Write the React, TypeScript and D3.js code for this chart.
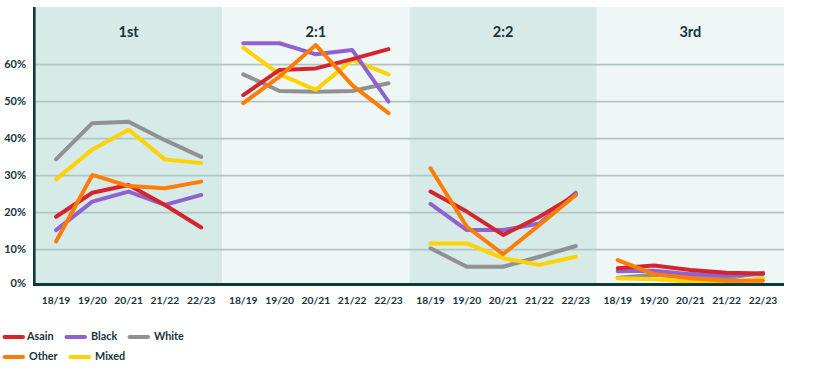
import React from "react";
import * as d3 from "d3";

const panels = ["1st", "2:1", "2:2", "3rd"];
const years = ["18/19", "19/20", "20/21", "21/22", "22/23"];
const yTicks = [0, 10, 20, 30, 40, 50, 60];

// values per panel (5 years each)
const asain = [
  [18.9, 25.4, 27.5, 22.1, 16.0],
  [51.8, 58.6, 59.0, 61.5, 64.2],
  [25.7, 20.3, 14.0, 18.9, 24.8],
  [5.0, 5.7, 4.5, 3.8, 3.6],
];
const black = [
  [15.3, 23.0, 25.7, 22.1, 24.8],
  [65.8, 65.8, 62.8, 64.0, 50.0],
  [22.4, 15.3, 15.3, 17.1, 25.4],
  [4.2, 4.3, 3.4, 3.0, 3.4],
];
const white = [
  [34.4, 44.2, 44.6, 39.6, 35.1],
  [57.4, 52.9, 52.7, 52.9, 55.0],
  [10.4, 5.4, 5.4, 8.1, 11.0],
  [2.4, 3.2, 2.7, 2.3, 3.8],
];
const other = [
  [12.2, 30.2, 27.2, 26.6, 28.4],
  [49.6, 56.8, 65.3, 54.5, 46.9],
  [32.0, 16.2, 8.8, 16.7, 24.8],
  [7.2, 3.4, 2.3, 1.6, 1.6],
];
const mixed = [
  [29.0, 37.1, 42.4, 34.4, 33.4],
  [64.6, 57.4, 53.2, 61.3, 57.4],
  [11.7, 11.7, 7.7, 5.9, 8.1],
  [2.3, 2.0, 1.4, 1.1, 2.3],
];

const seriesColors: Record<string, string> = {
  Asain: "#d4252f",
  Black: "#8f62d0",
  White: "#919194",
  Other: "#ff7d06",
  Mixed: "#ffd200",
};
const seriesData: Record<string, number[][]> = {
  Asain: asain,
  Black: black,
  White: white,
  Other: other,
  Mixed: mixed,
};
const drawOrder = ["White", "Mixed", "Black", "Asain", "Other"];

const W = 814;
const H = 370;
const plotLeft = 35;
const plotRight = 784;
const plotTop = 7;
const axisY = 284.5;
const FONT = "Lato, 'Open Sans', sans-serif";
const TXT = "#16343a";

export default function App() {
  const y = d3.scaleLinear().domain([0, 75]).range([286.7, 9.2]);
  const band = d3.scaleBand<string>().domain(panels).range([plotLeft, plotRight]).padding(0);
  const bw = band.bandwidth();
  const xFor = (p: string) =>
    d3.scalePoint<string>().domain(years).range([band(p)! + 21, band(p)! + bw - 21]);
  const line = (xs: d3.ScalePoint<string>) =>
    d3
      .line<number>()
      .x((_, i) => xs(years[i])!)
      .y((v) => y(v));

  const legendRows = [
    [
      { name: "Asain", x: 3, tx: 27 },
      { name: "Black", x: 65, tx: 91 },
      { name: "White", x: 128, tx: 154 },
    ],
    [
      { name: "Other", x: 3, tx: 29 },
      { name: "Mixed", x: 69, tx: 95 },
    ],
  ];

  return (
    <svg
      width={W}
      height={H}
      style={{ position: "absolute", left: 0, top: 0, background: "#fff" }}
      fontFamily={FONT}
    >
      {panels.map((p, i) => (
        <rect
          key={p}
          x={band(p)}
          y={plotTop}
          width={bw}
          height={axisY - plotTop}
          fill={i % 2 === 0 ? "#d6eae7" : "#eff7f6"}
        />
      ))}
      {yTicks.slice(1).map((t) => (
        <line key={t} x1={plotLeft} x2={plotRight} y1={y(t)} y2={y(t)} stroke="#b2c5c2" strokeWidth={1.8} />
      ))}
      {panels.map((p) => (
        <text
          key={p}
          x={band(p)! + bw / 2}
          y={33}
          textAnchor="middle"
          dominantBaseline="middle"
          fontSize={14.5}
          fontWeight={700}
          fill={TXT}
        >
          {p}
        </text>
      ))}
      {panels.map((p, pi) => {
        const xs = xFor(p);
        return (
          <g key={p}>
            {drawOrder.map((s) => (
              <path
                key={s}
                d={line(xs)(seriesData[s][pi]) || ""}
                fill="none"
                stroke={seriesColors[s]}
                strokeWidth={4}
                strokeLinejoin="round"
                strokeLinecap="round"
              />
            ))}
            {years.map((yr) => (
              <text
                key={yr}
                x={xs(yr)}
                y={301}
                textAnchor="middle"
                dominantBaseline="middle"
                fontSize={10.3}
                fontWeight={700}
                fill={TXT}
              >
                {yr}
              </text>
            ))}
          </g>
        );
      })}
      <line x1={plotLeft - 1} x2={plotRight} y1={axisY} y2={axisY} stroke="#0e3a3a" strokeWidth={3} />
      <line x1={34.3} x2={34.3} y1={plotTop} y2={axisY + 1.5} stroke="#0e3a3a" strokeWidth={2.6} />
      {yTicks.map((t) => (
        <text
          key={t}
          x={26}
          y={t === 0 ? 284 : y(t)}
          textAnchor="end"
          dominantBaseline="middle"
          fontSize={11}
          fontWeight={700}
          fill={TXT}
        >
          {t}%
        </text>
      ))}
      {legendRows.map((row, ri) =>
        row.map((it) => (
          <g key={it.name}>
            <line
              x1={it.x + 1.5}
              x2={it.x + 20}
              y1={337 + ri * 20}
              y2={337 + ri * 20}
              stroke={seriesColors[it.name]}
              strokeWidth={4}
              strokeLinecap="round"
            />
            <text
              x={it.tx}
              y={337 + ri * 20}
              dominantBaseline="middle"
              fontSize={10.8}
              fontWeight={700}
              fill={TXT}
            >
              {it.name}
            </text>
          </g>
        ))
      )}
    </svg>
  );
}
